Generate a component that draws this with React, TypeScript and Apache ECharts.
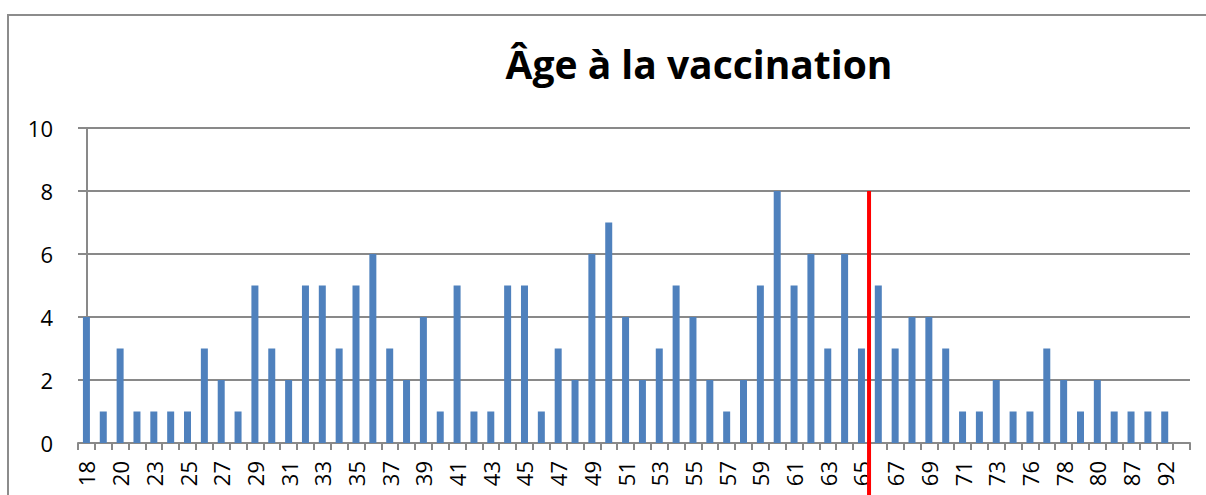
import React, { useEffect, useRef } from "react";
import * as echarts from "echarts";

const ages: string[] = [
  "18", "19", "20", "22", "23", "24", "25", "26", "27", "28", "29", "30", "31", "32", "33", "34", "35",
  "36", "37", "38", "39", "40", "41", "42", "43", "44", "45", "46", "47", "48", "49", "50", "51", "52",
  "53", "54", "55", "56", "57", "58", "59", "60", "61", "62", "63", "64", "65", "66", "67", "68", "69",
  "70", "71", "72", "73", "75", "76", "77", "78", "79", "80", "83", "87", "89", "92", "",
];

const counts: (number | null)[] = [
  4, 1, 3, 1, 1, 1, 1, 3, 2, 1, 5, 3, 2, 5, 5, 3, 5,
  6, 3, 2, 4, 1, 5, 1, 1, 5, 5, 1, 3, 2, 6, 7, 4, 2,
  3, 5, 4, 2, 1, 2, 5, 8, 5, 6, 3, 6, 3, 5, 3, 4, 4,
  3, 1, 1, 2, 1, 1, 3, 2, 1, 2, 1, 1, 1, 1, null,
];

const yTicks = { min: 0, max: 10, interval: 2 };

// red separator: drawn between the "65" and "66" categories, from 8 down past the axis
const separatorPos = 46.45;
const separatorTop = 8;
const separatorBottom = -3;

const title = "Âge à la vaccination";

const FONT = "'Open Sans', 'Liberation Sans', sans-serif";
const GRID = "#898989";

export default function App() {
  const ref = useRef<HTMLDivElement>(null);
  useEffect(() => {
    if (!ref.current) return;
    const chart = echarts.init(ref.current, undefined, { renderer: "svg" });
    chart.setOption({
      animation: false,
      backgroundColor: "#ffffff",
      textStyle: { fontFamily: FONT },
      title: {
        text: title,
        left: 694,
        top: 39,
        textAlign: "center",
        textStyle: { fontFamily: FONT, fontWeight: "bold", fontSize: 39, color: "#000000" },
      },
      graphic: [
        {
          type: "rect",
          shape: { x: 8, y: 15, width: 1400, height: 700 },
          style: { fill: "none", stroke: "#8c8c8c", lineWidth: 2 },
          silent: true,
        },
      ],
      grid: { left: 78, right: 16, top: 128, bottom: 52, containLabel: false },
      xAxis: [
        {
          type: "category",
          data: ages,
          boundaryGap: true,
          axisLine: { show: true, lineStyle: { color: GRID, width: 2 } },
          axisTick: { show: true, length: 7, interval: 0, lineStyle: { color: GRID, width: 2 } },
          axisLabel: {
            interval: 1,
            rotate: 90,
            margin: 18,
            fontSize: 22,
            color: "#000000",
            fontFamily: FONT,
          },
          splitLine: { show: false },
        },
        {
          type: "value",
          min: -0.5,
          max: ages.length - 0.5,
          show: false,
        },
      ],
      yAxis: {
        type: "value",
        min: yTicks.min,
        max: yTicks.max,
        interval: yTicks.interval,
        axisLine: { show: true, lineStyle: { color: GRID, width: 2 } },
        axisTick: { show: true, length: 8, lineStyle: { color: GRID, width: 2 } },
        axisLabel: { fontSize: 22, margin: 25, color: "#000000", fontFamily: FONT },
        splitLine: { show: true, lineStyle: { color: GRID, width: 2 } },
      },
      series: [
        {
          type: "bar",
          data: counts,
          barWidth: 7,
          itemStyle: { color: "#4F81BD" },
          xAxisIndex: 0,
        },
        {
          type: "line",
          xAxisIndex: 1,
          data: [
            [separatorPos, separatorTop],
            [separatorPos, separatorBottom],
          ],
          clip: false,
          symbol: "none",
          lineStyle: { color: "#FF0000", width: 4 },
          z: 5,
        },
      ],
    });
    return () => chart.dispose();
  }, []);
  return (
    <div
      ref={ref}
      style={{ position: "absolute", left: 0, top: 0, width: 1206, height: 495 }}
    />
  );
}
